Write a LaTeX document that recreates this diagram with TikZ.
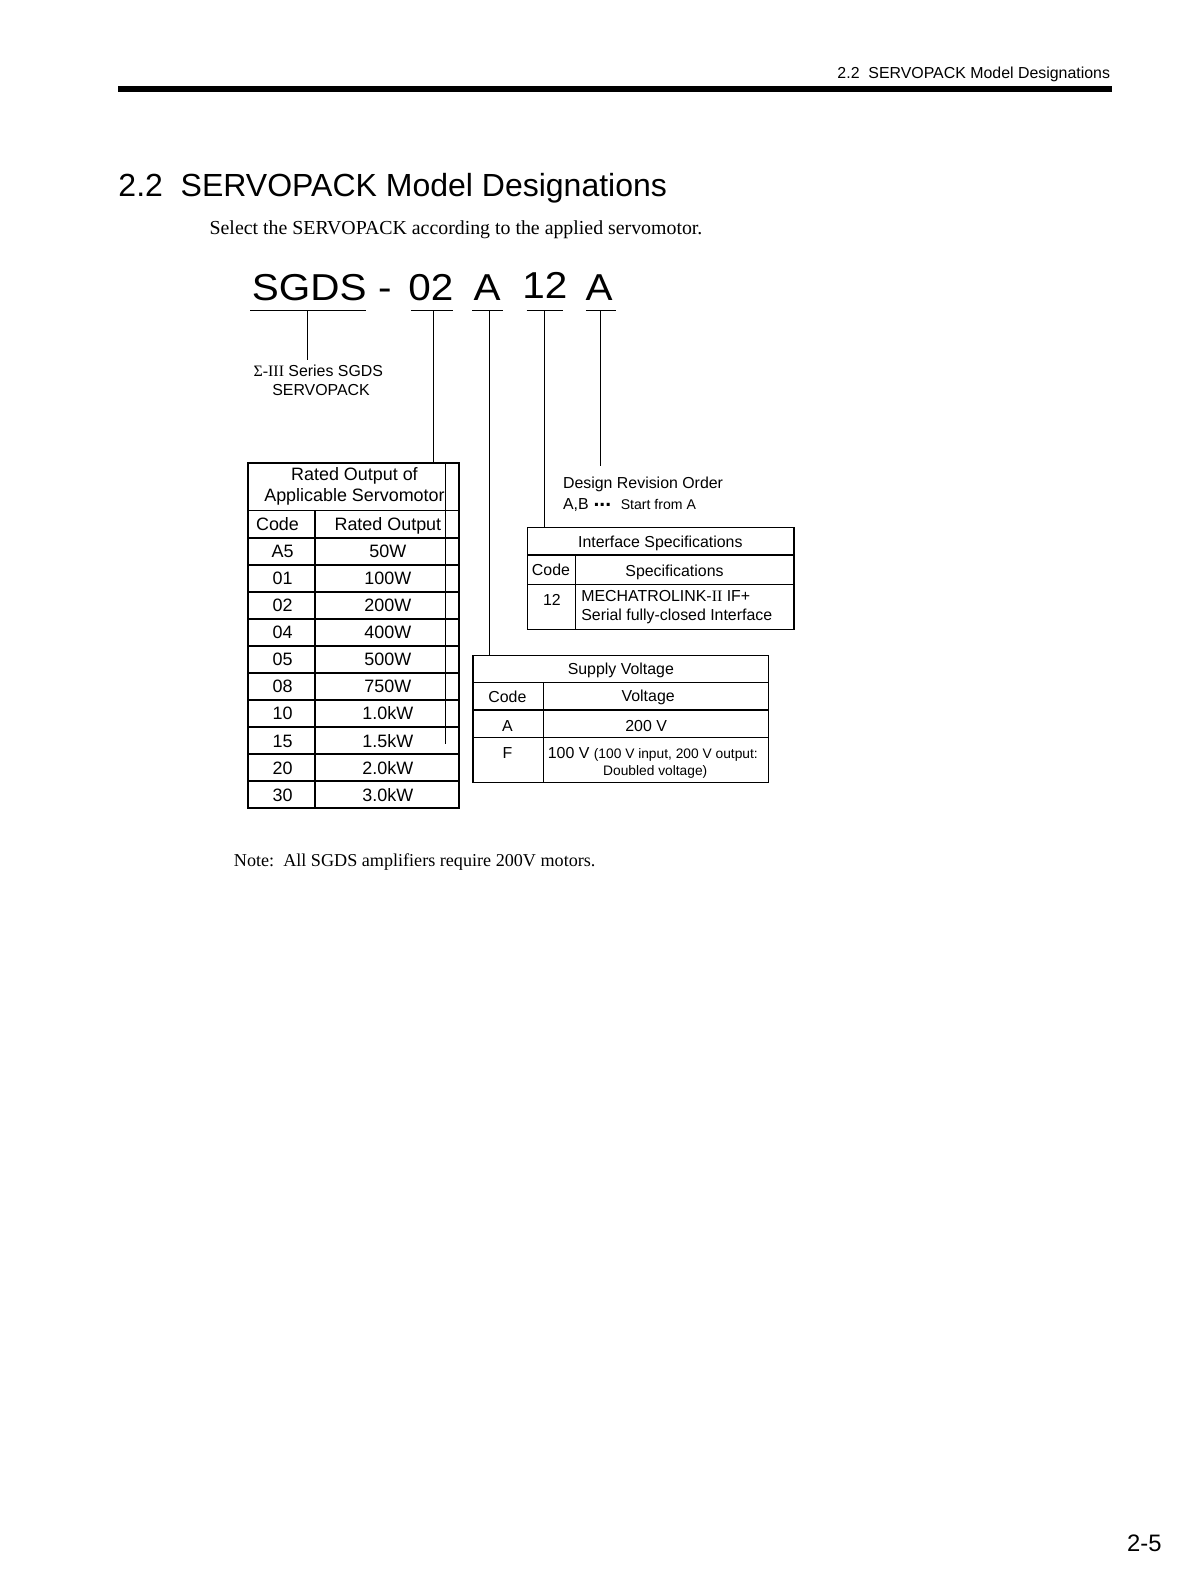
\documentclass[tikz,border=0pt]{standalone}
\usepackage{fontspec}
\setmainfont{Liberation Serif}
\setsansfont{Liberation Sans}
\newfontfamily\arial{Liberation Sans}
\newfontfamily\arialbf{Liberation Sans Bold}
\newfontfamily\tnr{Liberation Serif}
\newfontfamily\bigsans[FakeStretch=1.08]{Liberation Sans}
\newcommand\fsz[1]{\fontsize{#1}{#1}\selectfont}
\begin{document}
\begin{tikzpicture}[x=1pt,y=-1pt,
  every node/.style={inner sep=0pt, outer sep=0pt},
  tA/.style={font=\arial\fsz{17.7}, anchor=base},
  tB/.style={font=\arial\fsz{15.7}, anchor=base},
  tS/.style={font=\arial\fsz{13.6}, anchor=base},
  big/.style={font=\bigsans\fsz{37}, anchor=base},
  thickrule/.style={line width=1.8pt},
  thinrule/.style={line width=1.1pt},
  leader/.style={line width=1pt}]
\useasboundingbox[fill=white] (0,0) rectangle (1175,1568);

% running header
\node[font=\arial\fsz{15.7}, anchor=base east] (runhead) at (1096,77.5) {2.2~~SERVOPACK Model Designations};
\fill (117,85) rectangle (1098,90.5);

% title and intro
\node[font=\arial\fsz{31.6}, anchor=base west] (title) at (117,194) {2.2~~SERVOPACK Model Designations};
\node[font=\tnr\fsz{19.6}, anchor=base west] (intro) at (207,232) {Select the SERVOPACK according to the applied servomotor.};

% model code
\node[big] (mSGDS) at (305.3,296.5) {SGDS};
\node[big] (mdash) at (380,296.5) {-};
\node[big] (m02) at (425.4,296.5) {02};
\node[big] (mA) at (481,296.5) {A};
\node[big] (m12) at (538,294.8) {12};
\node[big] (mA2) at (591.6,296.5) {A};

% underlines
\draw[leader] (246.9,307) -- (361.4,307);
\draw[leader] (405.8,307) -- (447,307);
\draw[leader] (466.4,307) -- (496.3,307);
\draw[leader] (520,307) -- (556,307);
\draw[leader] (578.6,307) -- (608.2,307);

% series label
\node[tB] (series) at (314.3,372) {{\tnr Σ-III} Series SGDS};
\node[tB] (servopack) at (317,391) {SERVOPACK};

% rated output table
\node[draw, thickrule, minimum width=208pt, minimum height=341pt, anchor=north west] (rtab) at (245,457) {};
\draw[thickrule] (245,504) -- (453,504);
\foreach \y in {531,557.7,584.4,611.1,637.8,664.5,691.2,717.9,744.6,771.3}
  \draw[thickrule] (245,\y) -- (453,\y);
\draw[thickrule] (311,504) -- (311,798);
\draw[line width=0.9pt] (439.5,457) -- (439.5,735);
\node[tA] (rh1) at (350,474) {Rated Output of};
\node[tA] (rh2) at (350,495) {Applicable Servomotor};
\node[tA] (rcode) at (274,523.5) {Code};
\node[tA] (rout) at (383,523.5) {Rated Output};
\foreach \c/\o [count=\i from 0] in {A5/50W,01/100W,02/200W,04/400W,05/500W,08/750W,10/1.0kW,15/1.5kW,20/2.0kW,30/3.0kW}{
  \node[tA] (rc\i) at (279,{550.7+26.7*\i}) {\c};
  \node[tA] (ro\i) at (383,{550.7+26.7*\i}) {\o};
}

% design revision
\node[tB, anchor=base west] (drev) at (556,482) {Design Revision Order};
\node[tB, anchor=base west] (drab) at (556,503) {A,B};
\node[font=\arialbf\fsz{20.9}, anchor=base west] (drdots) at (586.1,500.5) {...};
\node[font=\arial\fsz{13.9}, anchor=base west] (drstart) at (613,503) {Start from A};

% interface table
\node[draw, thinrule, minimum width=263pt, minimum height=101pt, anchor=north west] (itab) at (521,521) {};
\draw[thinrule] (521,548) -- (784,548);
\draw[thinrule] (521,577) -- (784,577);
\draw[thinrule] (568,548) -- (568,622);
\node[tB] (ih) at (652,541) {Interface Specifications};
\node[tB] (icode) at (544,568.5) {Code};
\node[tB] (ispec) at (666,569.5) {Specifications};
\node[tB] (i12) at (545,598) {12};
\node[tB, anchor=base west] (im1) at (574,594) {MECHATROLINK-{\tnr II} IF+};
\node[tB, anchor=base west] (im2) at (574,613) {Serial fully-closed Interface};

% supply voltage table
\node[draw, thinrule, minimum width=292pt, minimum height=126pt, anchor=north west] (stab) at (467,647) {};
\draw[thinrule] (467,674) -- (759,674);
\draw[thinrule] (467,701) -- (759,701);
\draw[thinrule] (467,728) -- (759,728);
\draw[thinrule] (537,674) -- (537,773);
\node[tB] (sh) at (613,666) {Supply Voltage};
\node[tB] (scode) at (501,694) {Code};
\node[tB] (svolt) at (640,693) {Voltage};
\node[tB] (sA) at (501,722) {A};
\node[tB] (s200) at (638,722) {200 V};
\node[tB] (sF) at (501,749) {F};
\node[tB, anchor=base west] (s100) at (541,749) {100 V {\fsz{13.6}(100 V input, 200 V output:}};
\node[tS] (sdbl) at (647,766) {Doubled voltage)};

% leaders
\coordinate (uSGDS) at (303.8,307);
\coordinate (eSGDS) at (303.8,355.5);
\draw[leader] (uSGDS) -- (eSGDS);
\coordinate (u02) at (427.9,307);
\draw[leader] (u02) -- (u02 |- rtab.north);
\coordinate (uA) at (483.2,307);
\draw[leader] (uA) -- (uA |- stab.north);
\coordinate (u12) at (537.5,307);
\draw[leader] (u12) -- (u12 |- itab.north);
\coordinate (uA2) at (593,307);
\coordinate (eA2) at (593,460);
\draw[leader] (uA2) -- (eA2);

% note and page number
\node[font=\tnr\fsz{17.9}, anchor=base west] (note) at (231,856) {Note:~~All SGDS amplifiers require 200V motors.};
\node[font=\arial\fsz{23.5}, anchor=base east] (pagenum) at (1147,1532) {2-5};
\end{tikzpicture}
\end{document}
